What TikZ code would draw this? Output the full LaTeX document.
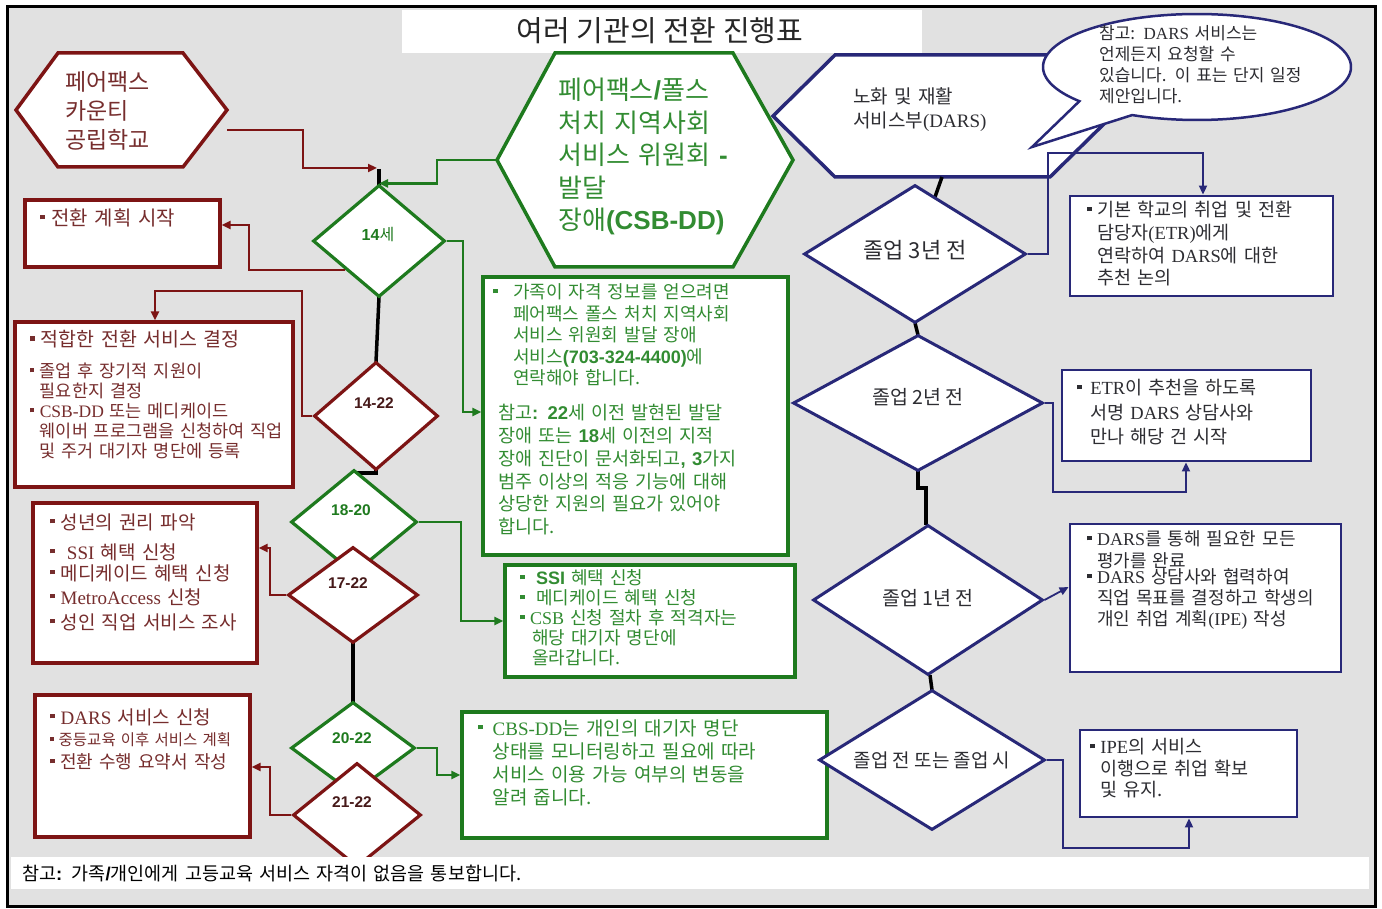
\documentclass[tikz,border=0pt]{standalone}
\usepackage{fontspec}
\setmainfont{Noto Sans CJK KR}
\newfontfamily\ar{Liberation Sans}
\newfontfamily\se{Liberation Serif}
\usetikzlibrary{arrows.meta,shapes.geometric}
\definecolor{bg}{RGB}{225,225,225}
\definecolor{rd}{RGB}{125,20,20}
\definecolor{gn}{RGB}{30,122,30}
\definecolor{bl}{RGB}{40,40,120}
\definecolor{rtx}{RGB}{118,45,45}
\definecolor{gtx}{RGB}{50,140,50}
\definecolor{dtx}{RGB}{45,45,50}
\definecolor{dlab}{RGB}{70,25,25}
\newcommand\bu{\makebox[0.55em][l]{\raisebox{0.3em}{\rule{0.24em}{0.24em}}}}
\newcommand\ind{\hspace*{0.55em}}
\newcommand\fs[2]{\fontsize{#1}{#2}\selectfont}
\begin{document}
\begin{tikzpicture}[x=1pt,y=-1pt,
  rl/.style={draw=rd, line width=2.4pt},
  gl/.style={draw=gn, line width=2.4pt},
  ul/.style={draw=bl, line width=1.8pt},
  sp/.style={draw=black, line width=3.5pt},
  arr/.style={-{Triangle[length=9pt,width=8pt]}},
  rb/.style={draw=rd, fill=white, line width=3.2pt, inner sep=0},
  gb/.style={draw=gn, fill=white, line width=3.2pt, inner sep=0},
  ub/.style={draw=bl, fill=white, line width=2.8pt, inner sep=0},
  dr/.style={diamond, draw=rd, fill=white, line width=3.2pt, inner sep=0},
  dg/.style={diamond, draw=gn, fill=white, line width=3.2pt, inner sep=0},
  db/.style={diamond, draw=bl, fill=white, line width=3pt, inner sep=0},
  hexr/.style={draw=rd, fill=white, line width=3.5pt},
  hexg/.style={draw=gn, fill=white, line width=3.5pt},
  hexb/.style={draw=bl, fill=white, line width=3.5pt},
  tx/.style={inner sep=0, anchor=base west, align=left, text width=360pt},
  lab/.style={inner sep=0}
]
\useasboundingbox (0,0) rectangle (1382,909);
% frame
\draw[line width=3pt, fill=bg] (7.5,6.5) rectangle (1375,906);
\fill[white] (402,10) rectangle (922,53);
\node[lab, font=\fs{29}{30}, text=black!85] (ttl) at (660,31) {여러 기관의 전환 진행표};

% hexagons
\draw[hexr] (16,110) -- (58,53) -- (183,53) -- (227,110) -- (183,167) -- (58,167) -- cycle;
\coordinate (fcOut) at (227,130);
\node[tx, font=\fs{23}{29}, text=rtx] (tfc) at (65,90.5) {페어팩스\\카운티\\공립학교};

\draw[hexg] (497,160) -- (555,53) -- (733,53) -- (793,160) -- (733,267) -- (555,267) -- cycle;
\coordinate (csbW) at (497,160);
\node[tx, font=\fs{26}{32.5}, text=gtx] (tcsb) at (558,99.6) {페어팩스{\ar\bfseries /}폴스\\처치 지역사회\\서비스 위원회 {\ar\bfseries -}\\발달\\장애{\ar\bfseries (CSB-DD)}};

\draw[hexb] (773,116) -- (835,55) -- (1050,55) -- (1112,116) -- (1050,177) -- (835,177) -- cycle;
\coordinate (darsS) at (942,177);
\node[tx, font=\fs{19}{24}, text=dtx] (tdars) at (853,104) {노화 및 재활\\서비스부{\se (DARS)}};

% speech bubble
\draw[draw=bl, fill=white, line width=2.5pt] plot[domain=139.8:474.9, samples=160, variable=\t] ({1197+154*cos(\t)},{67+53*sin(\t)}) -- (1032,147) -- cycle;
\node[tx, font=\fs{17}{21}, text=dtx] (tbub) at (1099,39.3) {참고: {\se DARS} 서비스는\\언제든지 요청할 수\\있습니다. 이 표는 단지 일정\\제안입니다.};

% boxes left (red)
\node[rb, minimum width=195, minimum height=67] (b1) at (122.5,233.5) {};
\node[rb, minimum width=278, minimum height=165] (b2) at (154,404.5) {};
\node[rb, minimum width=224, minimum height=160] (b3) at (145,583) {};
\node[rb, minimum width=215, minimum height=142] (b4) at (142.5,766) {};
% boxes green
\node[gb, minimum width=305, minimum height=278] (g1) at (635.5,416) {};
\node[gb, minimum width=290, minimum height=112] (g2) at (650,621) {};
\node[gb, minimum width=365, minimum height=126] (g3) at (644.5,775) {};
% boxes blue
\node[ub, minimum width=263, minimum height=100] (u1) at (1201.5,246) {};
\node[ub, minimum width=249, minimum height=91] (u2) at (1186.5,415.5) {};
\node[ub, minimum width=271, minimum height=148] (u3) at (1205.5,598) {};
\node[ub, minimum width=217, minimum height=87] (u4) at (1188.5,773.5) {};

% spine (left)
\coordinate (d14top) at (379,185);
\draw[sp] (379,169) -- (d14top);
\draw[sp] (379,297) -- (376,362);
\draw[sp] (376,470) -- (376,473) -- (354,473) -- (354,470);
\draw[sp] (353,643) -- (353,702);
% spine (right)
\draw[sp] (darsS) -- (915,254);
\draw[sp] (915,323) -- (918,335);
\draw[sp] (918,471) -- (918,488) -- (926,488) -- (926,525);
\draw[sp] (930,675) -- (932,690);

% left diamonds
\node[dg, minimum width=132, minimum height=112] (d14) at (379,241) {};
\node[dr, minimum width=124, minimum height=108] (d1422) at (376,416) {};
\node[dg, minimum width=126, minimum height=104] (d1820) at (354,522) {};
\node[dr, minimum width=130, minimum height=96] (d1722) at (353,595) {};
\node[dg, minimum width=124, minimum height=92] (d2022) at (353,748) {};
\node[dr, minimum width=128, minimum height=104] (d2122) at (357,815) {};

% right diamonds
\node[db, minimum width=222, minimum height=138] (r3) at (915,254) {};
\node[db, minimum width=250, minimum height=136] (r2) at (918,403) {};
\node[db, minimum width=230, minimum height=150] (r1) at (928,600) {};
\node[db, minimum width=226, minimum height=140] (r0) at (932,760) {};

% connectors left
\draw[rl, arr] (fcOut) -| (303,168) -- (377,168);
\draw[gl, arr] (csbW) -- (437,160) |- (d14.north);
\draw[rl, arr] (d14.south west) -| (249,225) -- (b1.east |- 0,225);
\draw[rl, arr] (d1422.west) -- (302,416) |- (155,291) -- (b2.north -| 155,0);
\draw[gl, arr] (d14.east) -- (463,241) |- (g1.west |- 0,412);
\draw[gl, arr] (d1820.east) -- (461,522) |- (g2.west);
\draw[rl, arr] (d1722.west) -- (270,595) |- (b3.east |- 0,548);
\draw[gl, arr] (d2022.east) -- (437,748) |- (g3.west |- 0,775);
\draw[rl, arr] (d2122.west) -- (270,815) |- (b4.east |- 0,767);
% connectors right
\draw[ul, arr] (r3.east) -- (1048,254) |- (1203,153) -- (u1.north -| 1203,0);
\draw[ul, arr] (r2.east) -- (1053,403) |- (1186,492) -- (u2.south -| 1186,0);
\draw[ul, arr] (r1.east) -- (u3.west |- 0,587);
\draw[ul, arr] (r0.east) -- (1063,760) |- (1189,848) -- (u4.south -| 1189,0);

% diamond labels
\node[lab, font=\fs{16}{18}, text=gn] (l14) at (378,235) {{\ar\bfseries 14}세};
\node[lab, font=\ar\bfseries\fs{15.5}{18}, text=dlab] (l1422) at (374,403) {14-22};
\node[lab, font=\ar\bfseries\fs{15.5}{18}, text=gn] (l1820) at (351,510) {18-20};
\node[lab, font=\ar\bfseries\fs{15.5}{18}, text=dlab] (l1722) at (348,583) {17-22};
\node[lab, font=\ar\bfseries\fs{15.5}{18}, text=gn] (l2022) at (352,738) {20-22};
\node[lab, font=\ar\bfseries\fs{15.5}{18}, text=dlab] (l2122) at (352,802) {21-22};
\node[lab, font=\fs{22}{24}, text=dtx] (lr3) at (915,250) {졸업 3년 전};
\node[lab, font=\fs{19.5}{22}, text=dtx] (lr2) at (918,397) {졸업 2년 전};
\node[lab, font=\fs{19.5}{22}, text=dtx] (lr1) at (928,598) {졸업 1년 전};
\node[lab, font=\fs{19}{22}, text=dtx] (lr0) at (932,760) {졸업 전 또는 졸업 시};

% box texts (red)
\node[tx, font=\fs{20}{24}, text=rtx] (tb1) at (40,225.4) {\bu 전환 계획 시작};
\node[tx, font=\fs{19.5}{24}, text=rtx] (tb2a) at (30,347) {\bu 적합한 전환 서비스 결정};
\node[tx, font=\fs{17.5}{20}, text=rtx] (tb2b) at (30,377.5) {\bu 졸업 후 장기적 지원이\\\ind 필요한지 결정\\\bu{\se CSB-DD} 또는 메디케이드\\\ind 웨이버 프로그램을 신청하여 직업\\\ind 및 주거 대기자 명단에 등록};
\node[tx, font=\fs{19}{24}, text=rtx] (tb3) at (50,529) {\bu 성년의 권리 파악\\[6pt]\bu\ {\se SSI} 혜택 신청\\[-3pt]\bu 메디케이드 혜택 신청\\\bu{\se MetroAccess} 신청\\[1pt]\bu 성인 직업 서비스 조사};
\node[tx, font=\fs{19}{22}, text=rtx] (tb4a) at (50,724) {\bu{\se DARS} 서비스 신청};
\node[tx, font=\fs{15.5}{18}, text=rtx] (tb4b) at (50,745.7) {\bu 중등교육 이후 서비스 계획};
\node[tx, font=\fs{18}{20}, text=rtx] (tb4c) at (50,768.7) {\bu 전환 수행 요약서 작성};

% box texts (green)
\node[tx, font=\fs{18}{21.5}, text=gtx] (tg1a) at (493,298.7) {\bu\hspace{10pt}가족이 자격 정보를 얻으려면\\\hspace*{20pt}페어팩스 폴스 처치 지역사회\\\hspace*{20pt}서비스 위원회 발달 장애\\\hspace*{20pt}서비스{\ar\bfseries (703-324-4400)}에\\\hspace*{20pt}연락해야 합니다.};
\node[tx, font=\fs{18.5}{22.8}, text=gtx] (tg1b) at (498,419.8) {참고{\ar\bfseries :} {\ar\bfseries 22}세 이전 발현된 발달\\장애 또는 {\ar\bfseries 18}세 이전의 지적\\장애 진단이 문서화되고{\ar\bfseries , 3}가지\\범주 이상의 적응 기능에 대해\\상당한 지원의 필요가 있어야\\합니다.};
\node[tx, font=\fs{18}{20}, text=gtx] (tg2) at (520,584.7) {\bu\ {\ar\bfseries SSI} 혜택 신청\\\bu\ 메디케이드 혜택 신청\\\bu{\se CSB} 신청 절차 후 적격자는\\\hspace*{12pt}해당 대기자 명단에\\\hspace*{12pt}올라갑니다.};
\node[tx, font=\fs{19}{23}, text=gtx] (tg3) at (478,735) {\bu\hspace{4pt}{\se CBS-DD}는 개인의 대기자 명단\\\hspace*{14.5pt}상태를 모니터링하고 필요에 따라\\\hspace*{14.5pt}서비스 이용 가능 여부의 변동을\\\hspace*{14.5pt}알려 줍니다.};

% box texts (blue)
\node[tx, font=\fs{18.5}{22.7}, text=dtx] (tu1) at (1087,216.8) {\bu 기본 학교의 취업 및 전환\\\ind 담당자{\se (ETR)}에게\\\ind 연락하여 {\se DARS}에 대한\\\ind 추천 논의};
\node[tx, font=\fs{18.5}{24.5}, text=dtx] (tu2) at (1077,394.8) {\bu\hspace{3pt}{\se ETR}이 추천을 하도록\\\hspace*{13pt}서명 {\se DARS} 상담사와\\\hspace*{13pt}만나 해당 건 시작};
\node[tx, font=\fs{18}{22}, text=dtx] (tu3a) at (1087,545.7) {\bu{\se DARS}를 통해 필요한 모든\\\ind 평가를 완료};
\node[tx, font=\fs{18}{21}, text=dtx] (tu3b) at (1087,583.7) {\bu{\se DARS} 상담사와 협력하여\\\ind 직업 목표를 결정하고 학생의\\\ind 개인 취업 계획{\se (IPE)} 작성};
\node[tx, font=\fs{18.5}{21.5}, text=dtx] (tu4) at (1090,753.8) {\bu{\se IPE}의 서비스\\\ind 이행으로 취업 확보\\\ind 및 유지.};

% bottom note strip
\fill[white] (11,857) rectangle (1369,889);
\node[tx, text width=1000pt, font=\fs{18.5}{20}, text=black] (note) at (22,880.8) {참고{\ar\bfseries :} 가족{\ar\bfseries /}개인에게 고등교육 서비스 자격이 없음을 통보합니다.};
\end{tikzpicture}
\end{document}
